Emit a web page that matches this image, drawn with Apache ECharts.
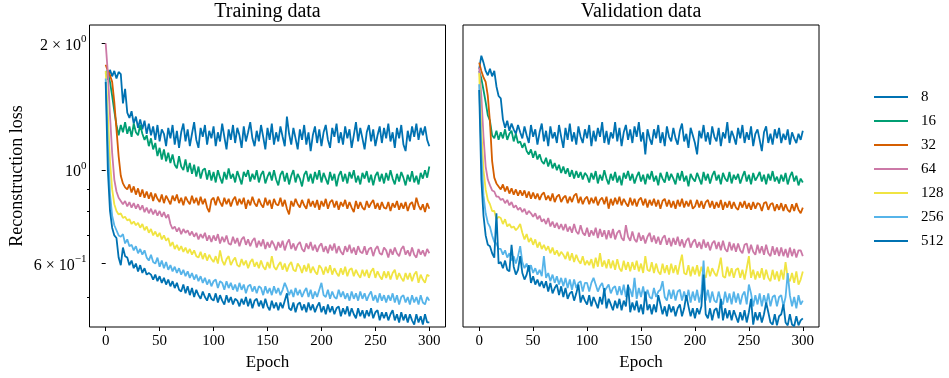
<!DOCTYPE html>
<html>
<head>
<meta charset="utf-8">
<script src="https://cdn.jsdelivr.net/npm/echarts@6/dist/echarts.min.js"></script>
<style>
  html, body { margin: 0; padding: 0; background: #fff; }
  #chart { width: 949px; height: 378px; }
</style>
</head>
<body>
<div id="chart"></div>
<script>
// values read every 2nd epoch, 0..300
const epochs = Array.from({length: 151}, (_, i) => i * 2);
const sizes = ['8', '16', '32', '64', '128', '256', '512'];
const colors = ['#0072B2', '#009E73', '#D55E00', '#CC79A7', '#F0E442', '#56B4E9', '#0072B2'];
const xTicks = [0, 50, 100, 150, 200, 250, 300];
const yMajor = [0.6, 1, 2];
const yMinor = [0.5, 0.7, 0.8, 0.9];

// Training data
const train8 = [1.70,1.64,1.73,1.67,1.72,1.65,1.71,1.69,1.44,1.56,
  1.37,1.33,1.38,1.29,1.34,1.26,1.32,1.25,1.31,1.22,
  1.29,1.21,1.27,1.18,1.28,1.17,1.25,1.22,1.14,1.26,
  1.19,1.28,1.15,1.24,1.13,1.23,1.29,1.17,1.25,1.14,
  1.22,1.30,1.18,1.13,1.26,1.20,1.28,1.15,1.24,1.19,
  1.27,1.14,1.23,1.17,1.29,1.20,1.12,1.25,1.18,1.28,
  1.16,1.26,1.21,1.13,1.27,1.17,1.23,1.30,1.19,1.14,
  1.24,1.17,1.28,1.20,1.12,1.26,1.18,1.29,1.15,1.23,
  1.17,1.27,1.20,1.14,1.34,1.22,1.15,1.26,1.19,1.12,
  1.25,1.18,1.28,1.15,1.23,1.11,1.21,1.27,1.16,1.25,
  1.14,1.23,1.28,1.18,1.13,1.26,1.20,1.29,1.16,1.23,
  1.15,1.27,1.19,1.25,1.13,1.21,1.30,1.17,1.26,1.19,
  1.12,1.23,1.28,1.17,1.25,1.14,1.21,1.27,1.16,1.26,
  1.19,1.29,1.17,1.23,1.13,1.26,1.19,1.28,1.15,1.11,
  1.24,1.17,1.27,1.20,1.29,1.18,1.26,1.21,1.27,1.18,
  1.14];
const train16 = [1.72,1.70,1.62,1.50,1.38,1.28,1.21,1.28,1.23,1.30,
  1.22,1.27,1.20,1.29,1.23,1.21,1.28,1.22,1.18,1.21,
  1.14,1.19,1.12,1.16,1.08,1.13,1.06,1.12,1.05,1.10,
  1.04,1.09,1.03,1.01,1.08,1.02,1.00,1.06,.99,1.04,
  .98,1.03,.965,1.02,.955,1.00,1.01,.95,1.00,.945,
  .99,.935,1.00,.96,.93,.99,.95,1.01,.955,.98,
  .935,.995,.96,.925,.99,.965,1.00,.94,.98,.95,
  1.00,.935,.975,.995,.93,.965,.99,.945,1.00,.95,
  .92,.975,.995,.94,.985,.925,.97,1.00,.935,.98,
  .955,.915,.975,.995,.94,.98,.93,.99,.95,1.00,
  .935,.985,.955,.925,.99,.945,.98,.915,.97,.995,
  .94,.98,.93,.99,.955,1.00,.935,.97,.925,.985,
  .955,.995,.935,.975,.92,.97,.99,.94,.98,.93,
  .985,.945,1.00,.955,.925,.98,.94,.99,.96,.92,
  .975,.94,.995,.935,.97,.925,.985,.955,1.00,.96,
  1.02];
const train32 = [1.78,1.72,1.68,1.62,1.45,1.25,1.08,.97,.93,.91,
  .90,.925,.885,.915,.875,.905,.865,.90,.86,.89,
  .855,.885,.845,.88,.855,.84,.875,.835,.87,.85,
  .83,.87,.845,.875,.835,.86,.825,.865,.845,.83,
  .87,.835,.86,.825,.865,.83,.855,.815,.795,.85,
  .86,.825,.865,.84,.82,.86,.83,.855,.82,.85,
  .865,.825,.855,.83,.86,.81,.85,.825,.865,.835,
  .82,.855,.83,.815,.86,.825,.85,.81,.855,.83,
  .825,.86,.82,.85,.81,.785,.845,.82,.855,.83,
  .815,.85,.825,.81,.855,.82,.845,.815,.85,.805,
  .845,.82,.855,.81,.84,.85,.815,.845,.805,.84,
  .82,.85,.81,.84,.815,.795,.845,.81,.84,.815,
  .805,.845,.815,.835,.85,.81,.835,.805,.84,.815,
  .81,.84,.80,.835,.815,.845,.805,.835,.81,.84,
  .80,.83,.84,.805,.86,.825,.805,.83,.795,.835,
  .81];
const train64 = [2.00,1.70,1.35,1.10,.95,.89,.86,.845,.83,.845,
  .82,.84,.815,.835,.81,.83,.805,.825,.795,.815,
  .79,.81,.785,.805,.78,.80,.775,.795,.77,.785,
  .745,.725,.735,.715,.73,.705,.725,.71,.72,.70,
  .715,.695,.71,.685,.705,.69,.71,.68,.70,.675,
  .70,.68,.705,.67,.695,.675,.70,.67,.665,.695,
  .67,.69,.66,.685,.695,.665,.685,.66,.68,.69,
  .655,.68,.66,.685,.65,.675,.655,.68,.665,.645,
  .675,.655,.68,.645,.67,.685,.65,.67,.645,.665,
  .675,.65,.64,.67,.65,.675,.645,.665,.64,.66,
  .67,.64,.66,.635,.665,.645,.67,.635,.66,.64,
  .63,.66,.64,.665,.635,.655,.63,.66,.64,.635,
  .66,.63,.65,.655,.625,.65,.66,.635,.63,.655,
  .645,.62,.65,.63,.655,.635,.625,.65,.66,.63,
  .645,.625,.655,.63,.62,.65,.63,.645,.625,.65,
  .635];
const train128 = [1.72,1.35,1.05,.90,.83,.80,.785,.79,.77,.775,
  .76,.765,.745,.755,.74,.75,.73,.745,.72,.735,
  .71,.725,.70,.715,.695,.71,.685,.70,.68,.69,
  .66,.675,.65,.665,.645,.66,.64,.655,.635,.65,
  .63,.645,.625,.62,.64,.615,.635,.61,.63,.615,
  .605,.625,.60,.645,.61,.595,.615,.625,.595,.61,
  .62,.595,.59,.615,.595,.61,.585,.605,.615,.59,
  .605,.585,.61,.59,.58,.605,.585,.625,.59,.58,
  .595,.605,.58,.60,.575,.595,.605,.58,.575,.60,
  .59,.57,.595,.575,.60,.57,.59,.575,.565,.595,
  .585,.565,.59,.57,.595,.565,.585,.57,.56,.585,
  .565,.59,.56,.58,.585,.56,.58,.565,.555,.58,
  .56,.58,.555,.575,.585,.555,.575,.56,.55,.575,
  .555,.575,.55,.57,.58,.55,.57,.555,.545,.57,
  .55,.57,.545,.565,.575,.54,.565,.55,.54,.565,
  .56];
const train256 = [1.65,1.15,.88,.78,.74,.72,.70,.695,.705,.67,
  .685,.66,.665,.645,.66,.635,.65,.63,.645,.62,
  .61,.63,.605,.60,.62,.59,.61,.585,.605,.58,
  .595,.575,.59,.57,.585,.565,.58,.56,.575,.555,
  .57,.55,.565,.545,.56,.54,.555,.535,.55,.53,
  .545,.55,.525,.545,.54,.52,.545,.525,.54,.52,
  .535,.515,.54,.52,.535,.51,.53,.535,.515,.53,
  .51,.53,.525,.505,.53,.51,.525,.505,.53,.51,
  .525,.505,.52,.54,.525,.505,.52,.50,.525,.505,
  .52,.50,.515,.525,.50,.52,.495,.515,.50,.52,
  .54,.505,.50,.52,.495,.515,.50,.495,.52,.50,
  .515,.495,.51,.49,.515,.495,.51,.49,.515,.495,
  .51,.49,.505,.515,.49,.505,.485,.51,.49,.505,
  .485,.505,.49,.51,.485,.505,.48,.50,.505,.485,
  .50,.48,.505,.485,.50,.48,.505,.485,.48,.50,
  .49];
const train512 = [1.62,1.00,.80,.73,.70,.69,.62,.595,.655,.625,
  .62,.595,.61,.585,.60,.575,.595,.57,.585,.565,
  .57,.565,.55,.565,.545,.56,.54,.555,.535,.55,
  .53,.545,.525,.54,.52,.515,.535,.51,.53,.505,
  .525,.50,.52,.505,.495,.515,.50,.49,.51,.495,
  .49,.51,.485,.505,.49,.48,.505,.485,.50,.48,
  .495,.49,.475,.495,.48,.50,.475,.495,.47,.49,
  .495,.475,.49,.47,.495,.475,.465,.49,.47,.485,
  .465,.485,.47,.49,.51,.47,.465,.485,.46,.48,
  .485,.465,.48,.46,.485,.465,.48,.46,.475,.485,
  .46,.475,.455,.48,.46,.475,.455,.47,.475,.45,
  .47,.455,.475,.45,.47,.455,.445,.47,.45,.465,
  .445,.465,.45,.47,.445,.46,.465,.44,.46,.445,
  .46,.44,.455,.465,.44,.455,.435,.46,.44,.455,
  .435,.455,.44,.43,.455,.435,.45,.43,.455,.435,
  .435];

// Validation data
const val8 = [1.74,1.87,1.80,1.72,1.68,1.74,1.67,1.72,1.58,1.50,
  1.48,1.32,1.26,1.31,1.24,1.29,1.25,1.22,1.28,1.23,
  1.19,1.27,1.21,1.16,1.28,1.20,1.25,1.15,1.23,1.29,
  1.17,1.24,1.14,1.27,1.19,1.23,1.16,1.28,1.20,1.13,
  1.26,1.18,1.29,1.17,1.23,1.15,1.27,1.20,1.16,1.25,
  1.19,1.28,1.14,1.24,1.17,1.26,1.20,1.30,1.16,1.24,
  1.15,1.23,1.19,1.30,1.17,1.26,1.14,1.23,1.28,1.18,
  1.25,1.16,1.27,1.20,1.30,1.17,1.23,1.09,1.25,1.19,
  1.15,1.25,1.19,1.28,1.16,1.23,1.14,1.27,1.20,1.17,
  1.26,1.19,1.15,1.24,1.29,1.17,1.22,1.13,1.26,1.21,
  1.16,1.09,1.24,1.19,1.28,1.17,1.23,1.15,1.27,1.20,
  1.17,1.26,1.14,1.23,1.19,1.30,1.16,1.24,1.20,1.15,
  1.26,1.19,1.28,1.16,1.23,1.18,1.27,1.14,1.22,1.25,
  1.18,1.11,1.23,1.27,1.16,1.22,1.15,1.25,1.19,1.26,
  1.16,1.22,1.18,1.25,1.15,1.23,1.19,1.16,1.22,1.18,
  1.24];
const val16 = [1.72,1.65,1.55,1.45,1.35,1.31,1.21,1.19,1.24,1.18,
  1.23,1.19,1.25,1.18,1.22,1.24,1.17,1.22,1.16,1.17,
  1.13,1.16,1.11,1.09,1.12,1.07,1.11,1.06,1.09,1.05,
  1.035,1.07,1.02,1.06,1.01,1.04,1.00,1.03,.985,1.02,
  .98,1.01,.965,1.00,.955,.995,.96,.99,.95,.985,
  .97,.935,.985,.95,.995,.93,.975,.945,1.00,.955,
  .925,.98,.945,.99,.935,.97,.92,.985,.955,.995,
  .945,.98,.93,.965,.99,.94,.975,.925,.98,.95,
  .995,.94,.97,.92,.985,.955,.935,.99,.945,.98,
  .955,.925,.985,.945,.995,.94,.97,.915,.98,.955,
  .94,.985,.955,.925,.99,.945,.98,.93,.97,.995,
  .945,.975,.925,.985,.955,.94,.99,.93,.975,.95,
  .98,.93,.965,.995,.94,.975,.925,.985,.945,.965,
  .99,.94,.975,.925,.98,.945,.995,.94,.965,.93,
  .975,.94,.985,.925,.965,.99,.94,.97,.92,.955,
  .935];
const val32 = [1.80,1.72,1.66,1.62,1.50,1.30,1.05,.96,.93,.915,
  .90,.925,.89,.915,.88,.905,.875,.90,.87,.895,
  .87,.895,.86,.89,.855,.885,.855,.88,.85,.875,
  .885,.85,.87,.845,.88,.84,.865,.875,.84,.86,
  .87,.835,.865,.84,.87,.88,.835,.865,.83,.855,
  .865,.83,.86,.835,.865,.825,.85,.86,.83,.865,
  .81,.855,.825,.86,.83,.865,.825,.855,.835,.82,
  .86,.825,.855,.82,.85,.86,.825,.855,.815,.85,
  .825,.855,.82,.85,.81,.845,.855,.82,.85,.815,
  .845,.81,.85,.82,.855,.815,.845,.82,.85,.81,
  .82,.85,.815,.845,.81,.84,.85,.815,.845,.81,
  .84,.815,.85,.805,.84,.815,.845,.81,.84,.815,
  .805,.84,.815,.845,.81,.835,.805,.84,.81,.835,
  .83,.80,.835,.84,.805,.83,.835,.80,.83,.805,
  .835,.80,.83,.805,.795,.83,.80,.835,.805,.79,
  .815];
const val64 = [1.75,1.50,1.20,1.02,.95,.92,.895,.89,.865,.865,
  .85,.855,.835,.85,.825,.84,.815,.825,.805,.815,
  .795,.81,.785,.80,.79,.775,.79,.765,.78,.755,
  .765,.745,.77,.735,.755,.73,.75,.725,.745,.72,
  .745,.715,.735,.71,.745,.715,.705,.74,.71,.70,
  .73,.695,.72,.70,.73,.69,.725,.695,.72,.685,
  .72,.69,.725,.685,.71,.72,.69,.68,.74,.695,
  .68,.715,.685,.675,.71,.68,.70,.67,.695,.71,
  .675,.70,.67,.695,.665,.69,.70,.665,.69,.66,
  .69,.665,.695,.66,.685,.655,.68,.69,.655,.675,
  .685,.655,.675,.65,.685,.655,.675,.645,.67,.68,
  .65,.675,.645,.68,.65,.64,.675,.645,.67,.64,
  .67,.645,.635,.665,.67,.635,.665,.64,.63,.665,
  .635,.66,.63,.665,.635,.625,.66,.63,.655,.625,
  .655,.625,.65,.62,.655,.625,.65,.62,.645,.645,
  .625];
const val128 = [1.70,1.25,1.00,.90,.85,.83,.80,.80,.765,.775,
  .77,.745,.765,.735,.745,.73,.735,.72,.73,.745,
  .71,.685,.705,.675,.69,.665,.685,.655,.675,.65,
  .665,.645,.66,.635,.655,.63,.645,.625,.64,.63,
  .615,.64,.61,.635,.605,.63,.61,.60,.625,.595,
  .61,.595,.615,.585,.62,.59,.635,.59,.61,.585,
  .615,.585,.61,.58,.615,.585,.575,.61,.58,.605,
  .575,.605,.58,.61,.575,.60,.57,.625,.58,.575,
  .605,.57,.60,.575,.565,.60,.57,.595,.565,.60,
  .57,.595,.565,.60,.63,.57,.565,.595,.56,.59,
  .565,.595,.56,.59,.565,.555,.59,.56,.585,.57,
  .56,.585,.62,.56,.555,.59,.56,.585,.555,.58,
  .585,.555,.58,.55,.585,.625,.555,.58,.55,.575,
  .555,.585,.55,.58,.555,.545,.58,.55,.575,.545,
  .58,.55,.605,.555,.545,.57,.54,.575,.535,.55,
  .575];
const val256 = [1.60,1.10,.87,.79,.75,.733,.70,.675,.67,.65,
  .65,.63,.645,.62,.635,.61,.625,.60,.625,.66,
  .605,.585,.60,.575,.595,.57,.585,.565,.58,.56,
  .625,.555,.57,.545,.565,.54,.56,.535,.555,.53,
  .555,.525,.55,.52,.55,.525,.54,.545,.515,.54,
  .54,.515,.54,.555,.535,.515,.53,.54,.515,.525,
  .535,.51,.525,.53,.505,.53,.505,.535,.50,.53,
  .52,.50,.555,.495,.525,.50,.53,.495,.52,.50,
  .495,.525,.50,.515,.52,.545,.50,.49,.52,.495,
  .52,.49,.515,.52,.49,.515,.49,.52,.485,.515,
  .49,.52,.485,.51,.61,.49,.52,.485,.515,.49,
  .485,.515,.49,.48,.515,.485,.51,.48,.515,.485,
  .51,.48,.505,.515,.48,.535,.51,.475,.505,.48,
  .51,.475,.505,.48,.51,.475,.50,.505,.475,.50,
  .505,.475,.50,.57,.505,.475,.50,.47,.505,.48,
  .49];
const val512 = [1.55,.95,.78,.70,.665,.66,.635,.62,.79,.60,
  .605,.585,.61,.58,.575,.665,.59,.565,.58,.625,
  .57,.55,.565,.595,.54,.56,.535,.55,.53,.545,
  .525,.545,.515,.54,.51,.525,.535,.505,.53,.50,
  .525,.495,.51,.515,.49,.51,.535,.485,.505,.49,
  .48,.505,.475,.50,.485,.47,.50,.48,.525,.47,
  .495,.48,.465,.49,.47,.495,.465,.49,.475,.535,
  .46,.485,.465,.49,.46,.48,.455,.515,.465,.48,
  .455,.48,.46,.505,.48,.455,.475,.45,.48,.46,
  .475,.45,.47,.48,.45,.47,.505,.475,.45,.47,
  .445,.47,.455,.475,.565,.455,.445,.47,.44,.465,
  .47,.445,.495,.44,.47,.445,.465,.44,.465,.45,
  .435,.46,.44,.465,.435,.46,.495,.43,.46,.44,
  .46,.435,.455,.485,.46,.435,.43,.455,.428,.45,
  .455,.48,.435,.428,.455,.43,.426,.45,.428,.44,
  .445];

const trainSets = [train8, train16, train32, train64, train128, train256, train512];
const valSets = [val8, val16, val32, val64, val128, val256, val512];

const FONT = "'Liberation Serif', 'DejaVu Serif', serif";
const yMin = 0.4243, yMax = 2.211;

function near(a, b) { return Math.abs(a - b) < 1e-6; }

function yLabel(v) {
  if (near(v, 2)) return '{m|2 × 10}{s|0}';
  if (near(v, 1)) return '{m|10}{s|0}';
  if (near(v, 0.6)) return '{m|6 × 10}{s|−1}';
  return '';
}

function xAxisFor(gridIndex) {
  return {
    type: 'value', gridIndex, min: -15, max: 315,
    name: 'Epoch', nameLocation: 'middle', nameGap: 24,
    nameTextStyle: {fontFamily: FONT, fontSize: 17, color: '#000'},
    axisLine: {show: false},
    splitLine: {show: false},
    axisTick: {show: true, customValues: xTicks, length: 4, lineStyle: {color: '#000', width: 1}},
    axisLabel: {customValues: xTicks, margin: 7, fontFamily: FONT, fontSize: 15, color: '#000'}
  };
}

function yAxisFor(gridIndex, ticks, withLabels, len) {
  return {
    type: 'log', logBase: 10, gridIndex, min: yMin, max: yMax, position: 'left',
    axisLine: {show: false},
    splitLine: {show: false},
    minorTick: {show: false},
    axisTick: {show: ticks.length > 0, customValues: ticks.length ? ticks : [1], length: len,
      lineStyle: {color: '#000', width: 1}},
    axisLabel: withLabels ? {
      customValues: ticks, margin: 3, formatter: yLabel,
      rich: {
        m: {fontFamily: FONT, fontSize: 16, color: '#000', lineHeight: 20, verticalAlign: 'bottom'},
        s: {fontFamily: FONT, fontSize: 11, color: '#000', lineHeight: 20, verticalAlign: 'top'}
      }
    } : {show: false}
  };
}

const series = [];
[trainSets, valSets].forEach((sets, g) => {
  sets.forEach((vals, k) => {
    series.push({
      name: sizes[k], type: 'line', xAxisIndex: g, yAxisIndex: g === 0 ? 0 : 2,
      data: vals.map((v, i) => [epochs[i], v]),
      symbol: 'none', showSymbol: false,
      lineStyle: {width: 1.8, color: colors[k]},
      itemStyle: {color: colors[k]},
      emphasis: {disabled: true}
    });
  });
});

const chart = echarts.init(document.getElementById('chart'), null, {renderer: 'canvas'});
chart.setOption({
  backgroundColor: '#fff',
  animation: false,
  title: [
    {text: 'Training data', left: 267.5, top: 2, textAlign: 'center', padding: 0,
     textStyle: {fontFamily: FONT, fontSize: 20, fontWeight: 'normal', color: '#000'}},
    {text: 'Validation data', left: 641, top: 2, textAlign: 'center', padding: 0,
     textStyle: {fontFamily: FONT, fontSize: 20, fontWeight: 'normal', color: '#000'}}
  ],
  grid: [
    {left: 89.5, top: 25, width: 356, height: 302, show: true, borderColor: '#000', borderWidth: 1, backgroundColor: 'transparent'},
    {left: 463, top: 25, width: 356, height: 302, show: true, borderColor: '#000', borderWidth: 1, backgroundColor: 'transparent'}
  ],
  xAxis: [xAxisFor(0), xAxisFor(1)],
  yAxis: [
    Object.assign(yAxisFor(0, yMajor, true, 4), {
      name: 'Reconstruction loss', nameLocation: 'middle', nameGap: 63,
      nameTextStyle: {fontFamily: FONT, fontSize: 18, color: '#000'}
    }),
    yAxisFor(0, yMinor, false, 2.5),
    yAxisFor(1, [], false, 0)
  ],
  legend: {
    orient: 'vertical', left: 874, top: 89, padding: 0,
    itemWidth: 34, itemHeight: 2, itemGap: 8, icon: 'rect',
    data: sizes,
    textStyle: {fontFamily: FONT, fontSize: 15, color: '#000', lineHeight: 16, padding: [0, 0, 0, 8]}
  },
  series
});
</script>
</body>
</html>
